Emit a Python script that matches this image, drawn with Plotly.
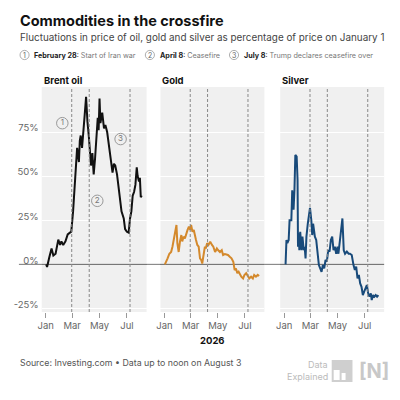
import pandas as pd
import plotly.graph_objects as go

# days after January 1 2026 and change in price (%)
brent_days = [1, 3, 8, 13, 17, 22, 28, 32, 35, 39, 44, 49, 54, 57, 61, 63, 66, 67, 68, 70, 72, 74, 76, 78,
              81, 84, 87, 90, 91, 93, 96, 99, 101, 104, 107, 110, 113, 116, 118, 120, 122, 126, 130, 133,
              137, 142, 146, 149, 152, 155, 159, 162, 166, 169, 174, 177, 181, 185, 188, 191, 194, 197,
              200, 203, 205, 208, 210, 212, 214]
brent_pct = [0, -1.5, 4, 9, 5, 6, 14, 11, 13, 11, 13, 17, 18, 18.5, 30, 39, 49, 60, 57, 66, 62, 58, 70, 73,
             66, 79, 85, 95, 88, 81, 73, 58, 56, 63, 51, 60, 73, 83, 76, 94, 80, 86, 77, 79,
             75, 66, 60, 52, 57, 56, 51, 45, 35, 30, 26, 20, 18.5, 18, 26, 30, 39, 41,
             45, 55, 50, 47, 49, 38, 39]

gold_days = [1, 4, 7, 11, 15, 18, 22, 24, 27, 29, 32, 35, 38, 40, 43, 46, 49, 52, 55, 58, 60, 63, 66,
             68, 71, 74, 77, 80, 83, 85, 88, 91, 93, 96, 99, 103, 107, 110, 114, 118, 121, 125, 129,
             132, 136, 140, 143, 147, 151, 155, 158, 161, 164, 167, 170, 173, 177, 180, 184, 188, 191,
             195, 199, 202, 206, 210, 213]
gold_pct = [0, 2.4, 3.4, 6, 7, 10, 15, 17.6, 22.3, 12, 7, 13, 16.6, 13, 15.7, 14.7, 17.6, 19.5, 21.3,
            19.5, 22.3, 18.5, 19.5, 16.6, 13.8, 11, 10, 3.4, 2.4, 0.5, 5.3, 10, 9, 12, 11, 12.8, 11, 10,
            7, 9, 8, 7, 8, 5.3, 5.8, 5.3, 5.3, 4.3, 3.4, 1.5, -3.2, -2.3, -5, -4.2, -6, -7, -8, -6, -5,
            -7, -8, -7, -8, -6, -7, -6, -6.6]

silver_days = [3, 5, 7, 10, 12, 16, 18, 21, 23, 25, 28, 30, 31, 33, 34, 36, 39, 41, 44, 46, 48, 50, 53,
               56, 58, 61, 63, 65, 67, 69, 72, 75, 78, 81, 84, 87, 90, 93, 96, 99, 102, 105, 108, 111,
               114, 117, 120, 122, 125, 128, 131, 134, 137, 141, 145, 148, 152, 156, 159, 162, 165, 168,
               171, 174, 177, 180, 183, 186, 189, 192, 195, 197, 200, 203, 206, 209, 212]
silver_pct = [0, 13.8, 12, 13.8, 25, 25, 42, 31, 42, 62, 61, 48, 10, 17.6, 8, 18.5, 8, 15.7, 8, 10, 3.4,
              15.7, 23, 29, 32, 25, 16.6, 23, 19.5, 15.7, 13.8, 6, -0.4, -2.3, -4.2, -0.4, -2.3, 2.5, 1.5,
              8, 7.2, 13.8, 15.7, 8, 10, 6, 10, 6, 13.8, 19.5, 26, 8, 6, 7.2, 6, 6, 5.3, -0.4, -3.2,
              -1.3, -8, -6, -10.8, -12.7, -17.4, -15.5, -13.6, -11.7, -16.4, -18.3, -16.4, -20.2, -17.4,
              -18.3, -17.4, -18.3, -17.4]

event_dates = ["2026-02-28", "2026-04-08", "2026-07-08"]
event_names = ["February 28", "April 8", "July 8"]
event_notes = ["Start of Iran war", "Ceasefire", "Trump declares ceasefire over"]
note_days = [37, 115, 167]
note_pct = [80, 36, 71]

month_ticks = ["2026-01-01", "2026-03-01", "2026-05-01", "2026-07-01"]
month_labels = ["Jan", "Mar", "May", "Jul"]
pct_ticks = [-25, 0, 25, 50, 75]
pct_labels = ["-25%", "0%", "25%", "50%", "75%"]

FONT = "Inter"
# the page puts the figure 8px in from the window's corner
OFF = 8
W, H = 400 - OFF, 400 - OFF
start = pd.Timestamp("2026-01-01")


def to_dates(days):
    return start + pd.to_timedelta(days, unit="D")


def px(x):
    return (x - OFF) / W


def py(y):
    return 1 - (y - OFF) / H


panels = [
    ("Brent oil", brent_days, brent_pct, "#111111", (38, 144)),
    ("Gold", gold_days, gold_pct, "#D4892C", (158, 263)),
    ("Silver", silver_days, silver_pct, "#184A7A", (279, 384)),
]

fig = go.Figure()
shapes = []
annotations = []
layout_axes = {}

for i, (name, days, pct, color, (left, right)) in enumerate(panels):
    n = "" if i == 0 else str(i + 1)
    fig.add_trace(go.Scatter(x=to_dates(days), y=pct, mode="lines",
                             line=dict(color=color, width=2), xaxis="x" + n, yaxis="y" + n,
                             hoverinfo="skip", showlegend=False))
    layout_axes["xaxis" + n] = dict(domain=[px(left), px(right)], anchor="y" + n, type="date",
                                    range=["2025-12-23", "2026-08-14"], tickvals=month_ticks,
                                    ticktext=month_labels, ticks="outside", ticklen=5, tickcolor="#999",
                                    showgrid=False, zeroline=False, showline=False,
                                    tickfont=dict(family=FONT, size=9.5, color="#666"))
    layout_axes["yaxis" + n] = dict(domain=[py(312), py(87)], anchor="x" + n, range=[-27, 100.5],
                                    tickvals=pct_ticks, ticktext=pct_labels, showticklabels=(i == 0),
                                    ticklabelshift=-4, ticklabelstandoff=2,
                                    showgrid=True, gridcolor="white", gridwidth=1,
                                    zeroline=True, zerolinecolor="#777", zerolinewidth=1,
                                    tickfont=dict(family=FONT, size=9.5, color="#666"))
    for d in event_dates:
        shapes.append(dict(type="line", xref="x" + n, yref="y" + n + " domain", x0=d, x1=d, y0=0, y1=1,
                           line=dict(color="#888", width=1, dash="3px,2px"), layer="above"))
    annotations.append(dict(text="<b>%s</b>" % name, x=px(left), y=py(80),
                            xanchor="left", yanchor="middle",
                            font=dict(family=FONT, size=9.5, color="#111")))

# zero line across the gaps and under the labels
shapes.append(dict(type="line", xref="paper", yref="y", x0=px(15), x1=px(384), y0=0, y1=0,
                   line=dict(color="#777", width=1), layer="below"))

# numbered notes on the oil panel
fig.add_trace(go.Scatter(x=to_dates(note_days), y=note_pct, mode="markers+text",
                         text=["1", "2", "3"], textposition="middle center",
                         textfont=dict(family=FONT, size=8, color="#777"),
                         marker=dict(symbol="circle", size=11.5, color="#F0F0F0",
                                     line=dict(color="#999", width=1)),
                         xaxis="x", yaxis="y", hoverinfo="skip", showlegend=False))

# key row
key_circle_x = [20.7, 147.3, 232.3]
key_text_x = [28, 155, 240]
for k in range(3):
    cx = key_circle_x[k]
    shapes.append(dict(type="circle", xref="paper", yref="paper", x0=px(cx - 4.6), x1=px(cx + 4.6),
                       y0=py(55 + 4.6), y1=py(55 - 4.6), line=dict(color="#999", width=0.8)))
    annotations.append(dict(text=str(k + 1), x=px(cx), y=py(55), xanchor="center", yanchor="middle",
                            font=dict(family=FONT, size=7, color="#666")))
    annotations.append(dict(text="<b>%s</b>:<span style='color:#777'> %s</span>" % (event_names[k], event_notes[k]),
                            x=px(key_text_x[k]), y=py(55), xanchor="left", yanchor="middle",
                            font=dict(family=FONT, size=7.2, color="#222")))

annotations += [
    dict(text="<b>Commodities in the crossfire</b>", x=px(14), y=py(20), xanchor="left", yanchor="middle",
         font=dict(family=FONT, size=14.5, color="#111")),
    dict(text="Fluctuations in price of oil, gold and silver as percentage of price on January 1",
         x=px(14), y=py(37), xanchor="left", yanchor="middle", font=dict(family=FONT, size=9.9, color="#444")),
    dict(text="<b>2026</b>", x=px(210.5), y=py(340), xanchor="center", yanchor="middle",
         font=dict(family=FONT, size=9.5, color="#111")),
    dict(text="Source: Investing.com \u2022 Data up to noon on August 3", x=px(14), y=py(362),
         xanchor="left", yanchor="middle", font=dict(family=FONT, size=8.8, color="#555")),
    dict(text="Data", x=px(329), y=py(364.5), xanchor="right", yanchor="middle",
         font=dict(family=FONT, size=9, color="#BBB")),
    dict(text="Explained", x=px(329), y=py(376.5), xanchor="right", yanchor="middle",
         font=dict(family=FONT, size=9, color="#BBB")),
    dict(text="<b>[N]</b>", x=px(374), y=py(371), xanchor="center", yanchor="middle",
         font=dict(family=FONT, size=20, color="#C8C8C8")),
]
for a in annotations:
    a.setdefault("xref", "paper")
    a.setdefault("yref", "paper")
    a.setdefault("showarrow", False)

# bar icon of the logo
shapes += [
    dict(type="rect", xref="paper", yref="paper", x0=px(331), x1=px(352), y0=py(382), y1=py(360),
         fillcolor="#CFCFCF", line_width=0),
    dict(type="rect", xref="paper", yref="paper", x0=px(333), x1=px(339), y0=py(380), y1=py(370),
         fillcolor="white", line_width=0),
    dict(type="rect", xref="paper", yref="paper", x0=px(341), x1=px(345), y0=py(380), y1=py(373),
         fillcolor="white", line_width=0),
]

fig.update_layout(width=W, height=H, margin=dict(l=0, r=0, t=0, b=0),
                  paper_bgcolor="white", plot_bgcolor="#F0F0F0",
                  font=dict(family=FONT), shapes=shapes, annotations=annotations,
                  **layout_axes)

fig.write_html("out.html", config={"displayModeBar": False})
